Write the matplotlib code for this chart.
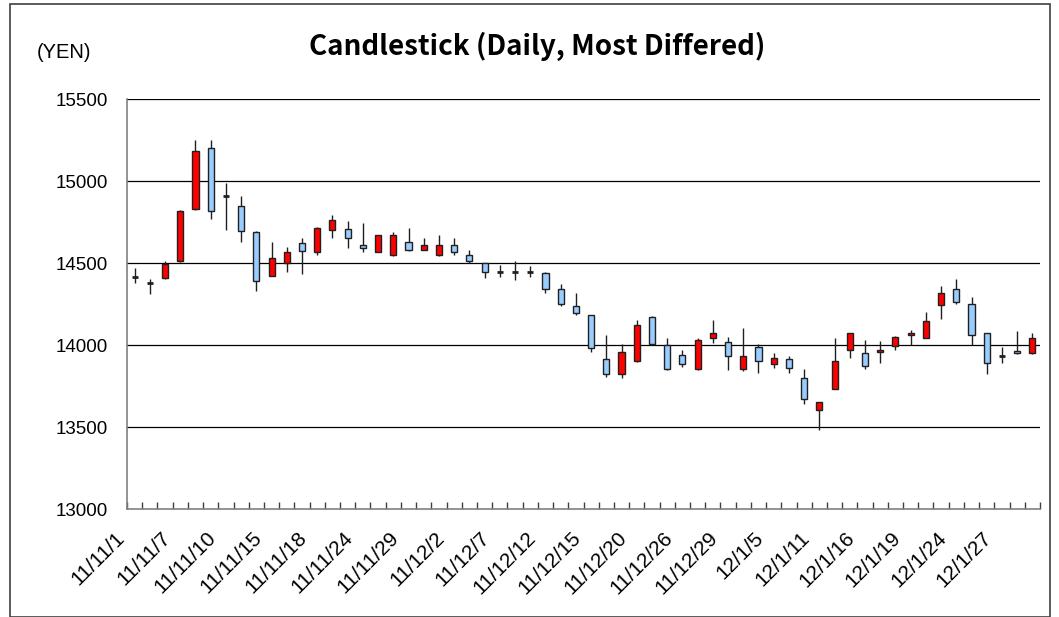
import matplotlib
matplotlib.use("Agg")
import matplotlib.pyplot as plt
from matplotlib.patches import Rectangle
import matplotlib.transforms as mtransforms

plt.rcParams['font.family'] = ['Liberation Sans', 'DejaVu Sans']

dates = ["11/11/1", "11/11/2", "11/11/4", "11/11/7", "11/11/8", "11/11/9", "11/11/10", "11/11/11",
         "11/11/14", "11/11/15", "11/11/16", "11/11/17", "11/11/18", "11/11/21", "11/11/22", "11/11/24",
         "11/11/25", "11/11/28", "11/11/29", "11/11/30", "11/12/1", "11/12/2", "11/12/5", "11/12/6",
         "11/12/7", "11/12/8", "11/12/9", "11/12/12", "11/12/13", "11/12/14", "11/12/15", "11/12/16",
         "11/12/19", "11/12/20", "11/12/21", "11/12/22", "11/12/26", "11/12/27", "11/12/28", "11/12/29",
         "11/12/30", "12/1/4", "12/1/5", "12/1/6", "12/1/10", "12/1/11", "12/1/12", "12/1/13",
         "12/1/16", "12/1/17", "12/1/18", "12/1/19", "12/1/20", "12/1/23", "12/1/24", "12/1/25",
         "12/1/26", "12/1/27", "12/1/30", "12/1/31"]

opens = [14418, 14378, 14410, 14510, 14830, 15200, 14912, 14848, 14690, 14420, 14498, 14620,
         14570, 14701, 14709, 14610, 14569, 14549, 14630, 14580, 14549, 14610, 14549, 14498,
         14445, 14448, 14444, 14441, 14341, 14238, 14180, 13913, 13821, 13901, 14173, 14000,
         13939, 13852, 14041, 14020, 13852, 13990, 13882, 13913, 13801, 13602, 13732, 13971,
         13949, 13957, 13992, 14060, 14041, 14242, 14340, 14252, 14071, 13932, 13962, 13950]
highs = [14470, 14400, 14510, 14825, 15250, 15250, 14990, 14910, 14698, 14630, 14600, 14650,
         14718, 14790, 14758, 14742, 14670, 14690, 14712, 14650, 14670, 14650, 14580, 14500,
         14488, 14512, 14482, 14443, 14370, 14320, 14182, 14060, 14004, 14152, 14176, 14041,
         13970, 14040, 14152, 14050, 14102, 14004, 13953, 13933, 13852, 13655, 14041, 14075,
         14030, 14022, 14055, 14092, 14200, 14362, 14400, 14290, 14073, 13990, 14083, 14071]
lows = [14380, 14310, 14405, 14505, 14825, 14770, 14700, 14630, 14330, 14418, 14447, 14430,
        14550, 14650, 14590, 14570, 14565, 14545, 14575, 14577, 14545, 14550, 14502, 14407,
        14417, 14396, 14417, 14320, 14240, 14180, 13960, 13807, 13801, 13898, 14002, 13850,
        13868, 13850, 14010, 13848, 13841, 13831, 13858, 13831, 13638, 13482, 13730, 13919,
        13852, 13888, 13968, 13998, 14040, 14157, 14250, 13998, 13821, 13888, 13948, 13948]
closes = [14415, 14375, 14495, 14820, 15180, 14820, 14908, 14693, 14390, 14530, 14567, 14571,
          14712, 14760, 14650, 14590, 14669, 14669, 14579, 14610, 14610, 14570, 14512, 14443,
          14448, 14445, 14442, 14341, 14250, 14193, 13980, 13821, 13959, 14120, 14004, 13852,
          13882, 14030, 14071, 13933, 13933, 13901, 13919, 13862, 13671, 13651, 13901, 14071,
          13872, 13970, 14051, 14071, 14148, 14319, 14260, 14061, 13892, 13929, 13953, 14041]

yticks = [13000, 13500, 14000, 14500, 15000, 15500]
label_every = 3

W, H = 1059, 617
fig = plt.figure(figsize=(W / 100, H / 100), dpi=100)

# outer chart border
fig.patches.append(Rectangle((10 / W, 0), 1040 / W, (H - 4) / H, transform=fig.transFigure,
                             fill=False, edgecolor='#404040', linewidth=1.2))

ax = fig.add_axes([127 / W, (H - 509) / H, (1040 - 127) / W, (509 - 99) / H])
n = len(dates)
ax.set_xlim(-0.5, n - 0.5)
ax.set_ylim(13000, 15500)

for spine in ['top', 'right']:
    ax.spines[spine].set_visible(False)
ax.spines['left'].set_color('#808080')
ax.spines['bottom'].set_color('#808080')
ax.spines['left'].set_linewidth(1.2)
ax.spines['bottom'].set_linewidth(1.2)

ax.set_yticks(yticks)
ax.set_yticklabels([str(v) for v in yticks], fontsize=13.5)
ax.tick_params(axis='y', length=0, pad=14)
for v in yticks[1:]:
    ax.axhline(v, color='black', linewidth=0.9, zorder=1)

ax.set_xticks([i - 0.5 for i in range(n + 1)])
ax.set_xticklabels([])
ax.tick_params(axis='x', direction='in', length=5, color='#404040', width=1)

width = 0.4
for i in range(n):
    o, h, l, c = opens[i], highs[i], lows[i], closes[i]
    ax.vlines(i, l, h, color='#202020', linewidth=1, zorder=2)
    if abs(c - o) < 6:
        ax.hlines((o + c) / 2, i - width / 2, i + width / 2, color='#202020', linewidth=2, zorder=3)
    else:
        color = '#FF0000' if c > o else '#99CCFF'
        ax.bar(i, abs(c - o), bottom=min(o, c), width=width, color=color,
               edgecolor='#202020', linewidth=1, zorder=3)

blend = mtransforms.blended_transform_factory(ax.transData, ax.transAxes)
blend = blend + mtransforms.ScaledTranslation(-13 / 100, -26 / 100, fig.dpi_scale_trans)
for i in range(0, n, label_every):
    ax.text(i, 0, dates[i], transform=blend, rotation=45, ha='right', va='center',
            rotation_mode='anchor', fontsize=15, clip_on=False)

fig.text(537 / W, 1 - 46 / H, "Candlestick (Daily, Most Differed)", ha='center', va='center',
         fontsize=20, family=['Noto Sans CJK KR', 'DejaVu Sans'], fontweight='bold')
fig.text(37 / W, 1 - 53 / H, "(YEN)", ha='left', va='center', fontsize=14.5)

fig.savefig("out.png", dpi=100)
